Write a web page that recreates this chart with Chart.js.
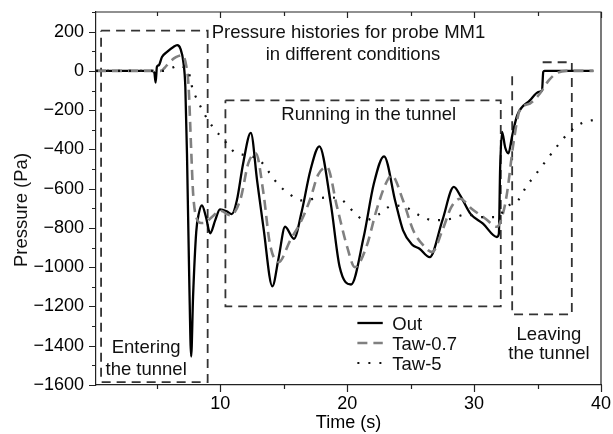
<!DOCTYPE html>
<html>
<head>
    <meta charset="UTF-8">
    <title>Pressure histories for probe MM1</title>
    <style>
        body { margin: 0; background: #fff; }
    </style>
    <script src="https://cdnjs.cloudflare.com/ajax/libs/Chart.js/4.4.1/chart.umd.min.js"></script>
</head>
<body>
    <canvas id="pressureChart" width="613" height="434"></canvas>

    <script>
        // values (time in s, pressure in Pa)
        const outTime = [0.2, 4.6, 4.8, 4.9, 5.0, 5.15, 5.4, 5.8, 6.3, 6.6, 6.85, 7.1, 7.24, 7.37, 7.55, 7.7, 7.85, 8.1, 8.3, 8.55, 8.85, 9.2, 9.6, 9.97, 10.5, 10.9, 11.3, 11.8, 12.4, 12.9, 13.4, 14.1, 14.6, 15.1, 15.8, 16.4, 17.1, 17.8, 18.7, 19.4, 20.3, 21.3, 22.1, 22.9, 23.8, 24.4, 25.1, 25.7, 26.5, 27.5, 28.4, 28.9, 29.7, 30.7, 31.8, 31.95, 32.05, 32.2, 32.45, 32.7, 33.0, 33.4, 34.4, 35.1, 35.35, 35.45, 35.55, 39.4];
        const outPressure = [0, 0, -10, -60, 20, 29, 71, 97, 122, 131, 114, 38, -81, -420, -1066, -1455, -1150, -820, -727, -685, -740, -827, -760, -705, -715, -730, -660, -470, -316, -560, -800, -1097, -950, -794, -855, -720, -506, -384, -675, -998, -1088, -845, -574, -435, -668, -812, -884, -906, -949, -761, -591, -634, -727, -778, -846, -830, -500, -311, -390, -420, -330, -226, -150, -107, -100, -5, 0, 0];

        const taw07Time = [0.2, 5.3, 5.6, 6.0, 6.5, 7.0, 7.3, 7.5, 7.7, 7.85, 8.1, 8.5, 8.9, 9.4, 10.0, 10.8, 11.6, 12.2, 12.8, 13.4, 13.9, 14.6, 15.5, 16.4, 17.1, 17.7, 18.4, 19.2, 20.0, 20.6, 21.5, 22.3, 23.0, 23.5, 24.4, 25.2, 26.0, 26.7, 27.5, 28.2, 28.9, 29.8, 30.9, 31.8, 32.3, 32.6, 33.1, 33.6, 34.4, 35.2, 35.9, 36.5, 37.3, 39.4];
        const taw07Pressure = [0, 0, 15, 45, 70, 80, 30, -82, -400, -620, -745, -775, -770, -740, -712, -736, -650, -471, -420, -624, -879, -974, -864, -761, -650, -530, -490, -694, -898, -1000, -898, -711, -580, -532, -660, -812, -889, -923, -812, -694, -651, -702, -753, -794, -720, -620, -369, -200, -166, -114, -47, -12, 0, 0];

        const taw5Time = [0.2, 5.5, 6.0, 6.85, 7.2, 7.5, 7.8, 8.2, 8.8, 9.4, 10.3, 11.2, 12.1, 13.1, 13.9, 14.5, 15.4, 16.4, 17.5, 18.5, 19.4, 20.5, 21.4, 22.5, 23.6, 24.7, 25.7, 26.8, 28.2, 29.4, 30.5, 31.5, 32.0, 32.4, 33.5, 34.1, 34.9, 35.7, 36.5, 37.4, 38.5, 39.4];
        const taw5Pressure = [0, 0, 10, 29, 15, -5, -90, -150, -226, -285, -353, -418, -430, -455, -522, -574, -625, -660, -650, -645, -651, -718, -761, -730, -685, -697, -736, -761, -753, -731, -745, -745, -740, -700, -656, -591, -523, -455, -387, -319, -265, -250];

        // dashed boxes marking the three phases
        const enteringBoxTime = [0.6, 9.0, 9.0, 0.6, 0.6];
        const enteringBoxPressure = [205, 205, -1585, -1585, 205];
        const runningBoxTime = [10.4, 32.1, 32.1, 10.4, 10.4];
        const runningBoxPressure = [-150, -150, -1200, -1200, -150];
        const leavingBoxTime = [33.0, 33.0, 37.7, 37.7, 35.2];
        const leavingBoxPressure = [-27, -1240, -1240, 44, 44];

        const xTicks = [5, 10, 15, 20, 25, 30, 35, 40];
        const yTicks = [];
        for (let v = -1600; v <= 300; v += 100) yTicks.push(v);

        const seriesNames = ["Out", "Taw-0.7", "Taw-5"];

        const notes = [
            { text: "Pressure histories for probe MM1", t: 20.1, p: 170 },
            { text: "in different conditions", t: 20.45, p: 57 },
            { text: "Running in the tunnel", t: 21.7, p: -251 },
            { text: "Entering", t: 4.15, p: -1439 },
            { text: "the tunnel", t: 4.15, p: -1549 },
            { text: "Leaving", t: 35.9, p: -1371 },
            { text: "the tunnel", t: 35.9, p: -1469 },
        ];

        function toPoints(xs, ys) {
            return xs.map((x, i) => ({ x: x, y: ys[i] }));
        }

        const FONT = "'Liberation Sans', Arial, sans-serif";
        Chart.defaults.font.family = FONT;
        Chart.defaults.color = "#000";

        const boxStyle = { borderColor: "#333", borderWidth: 1.8, borderDash: [9, 6], pointRadius: 0, fill: false, tension: 0, order: 3 };

        // frame, tick marks, annotations and legend
        const framePlugin = {
            id: "frame",
            afterDraw(chart) {
                const c = chart.ctx;
                const a = chart.chartArea;
                const xs = chart.scales.x;
                const ys = chart.scales.y;
                c.save();
                c.strokeStyle = "#222";
                c.lineWidth = 1.2;
                c.beginPath();
                c.moveTo(a.left, a.top); c.lineTo(a.right, a.top); c.lineTo(a.right, a.bottom);
                xTicks.forEach(v => {
                    const px = Math.round(xs.getPixelForValue(v)) + 0.5;
                    const major = v % 10 === 0;
                    c.moveTo(px, a.bottom); c.lineTo(px, a.bottom + (major ? 7 : 4));
                    c.moveTo(px, a.top); c.lineTo(px, a.top + (major ? 6 : 4));
                });
                yTicks.forEach(v => {
                    const py = Math.round(ys.getPixelForValue(v)) + 0.5;
                    const major = v % 200 === 0;
                    c.moveTo(a.left, py); c.lineTo(a.left - (major ? 7 : 4), py);
                });
                c.stroke();

                c.fillStyle = "#111";
                c.font = "18.5px " + FONT;

                // y axis title, sitting a little below the middle as in the original
                c.save();
                c.translate(22, 210);
                c.rotate(-Math.PI / 2);
                c.textAlign = "center";
                c.textBaseline = "middle";
                c.fillText("Pressure (Pa)", 0, 0);
                c.restore();

                c.textAlign = "center";
                c.textBaseline = "alphabetic";
                notes.forEach(n => {
                    c.fillText(n.text, xs.getPixelForValue(n.t), ys.getPixelForValue(n.p));
                });

                // legend
                const x0 = xs.getPixelForValue(20.8);
                const x1 = xs.getPixelForValue(22.8);
                const xt = xs.getPixelForValue(23.55);
                const y0 = ys.getPixelForValue(-1286);
                c.textAlign = "left";
                seriesNames.forEach((name, i) => {
                    const ds = chart.data.datasets[i];
                    const ly = Math.round(y0 + i * 19.7);
                    c.save();
                    c.strokeStyle = ds.borderColor;
                    c.lineWidth = ds.borderWidth;
                    c.setLineDash(ds.borderDash || []);
                    c.beginPath();
                    c.moveTo(x0, ly); c.lineTo(x1, ly);
                    c.stroke();
                    c.restore();
                    c.fillText(name, xt, ly + 7);
                });
                c.restore();
            }
        };

        // tick marks are drawn by the plugin; the invisible grid ticks only keep labels off the axis
        const hiddenGrid = len => ({ display: true, drawOnChartArea: false, drawTicks: true, tickLength: len, tickColor: "transparent" });

        const ctx = document.getElementById("pressureChart").getContext("2d");
        const pressureChart = new Chart(ctx, {
            type: "line",
            data: {
                datasets: [
                    { label: seriesNames[0], data: toPoints(outTime, outPressure), borderColor: "#000", borderWidth: 2.3, pointRadius: 0, fill: false, cubicInterpolationMode: "monotone", order: 2 },
                    { label: seriesNames[1], data: toPoints(taw07Time, taw07Pressure), borderColor: "#808080", borderWidth: 2.6, borderDash: [10, 6], pointRadius: 0, fill: false, cubicInterpolationMode: "monotone", order: 1 },
                    { label: seriesNames[2], data: toPoints(taw5Time, taw5Pressure), borderColor: "#111", borderWidth: 2.2, borderDash: [2, 9], pointRadius: 0, fill: false, cubicInterpolationMode: "monotone", order: 0 },
                    Object.assign({ label: "entering", data: toPoints(enteringBoxTime, enteringBoxPressure) }, boxStyle),
                    Object.assign({ label: "running", data: toPoints(runningBoxTime, runningBoxPressure) }, boxStyle),
                    Object.assign({ label: "leaving", data: toPoints(leavingBoxTime, leavingBoxPressure) }, boxStyle),
                ],
            },
            options: {
                responsive: false,
                animation: false,
                layout: { padding: { top: 12, right: 12, left: 0, bottom: 0 } },
                plugins: { legend: { display: false }, tooltip: { enabled: false } },
                scales: {
                    x: {
                        type: "linear",
                        min: 0.2,
                        max: 40,
                        afterBuildTicks: s => { s.ticks = xTicks.map(v => ({ value: v })); },
                        afterFit: s => { s.height = 49; },
                        grid: hiddenGrid(8),
                        border: { display: true, color: "#222", width: 1.2 },
                        ticks: {
                            autoSkip: false, maxRotation: 0, padding: 0,
                            font: { size: 18 },
                            callback: v => (v % 10 === 0 ? String(v) : ""),
                        },
                        title: { display: true, text: "Time (s)", font: { size: 18 }, padding: { top: 0, bottom: 0 } },
                    },
                    y: {
                        type: "linear",
                        min: -1600,
                        max: 300,
                        afterBuildTicks: s => { s.ticks = yTicks.map(v => ({ value: v })); },
                        afterFit: s => { s.width = 96; },
                        grid: hiddenGrid(12),
                        border: { display: true, color: "#222", width: 1.2 },
                        ticks: {
                            autoSkip: false, padding: 0,
                            font: { size: 18 },
                            callback: v => (v % 200 === 0 ? (v < 0 ? "\u2212" + Math.abs(v) : String(v)) : ""),
                        },
                        title: { display: false },
                    },
                },
            },
            plugins: [framePlugin],
        });
    </script>
</body>
</html>
